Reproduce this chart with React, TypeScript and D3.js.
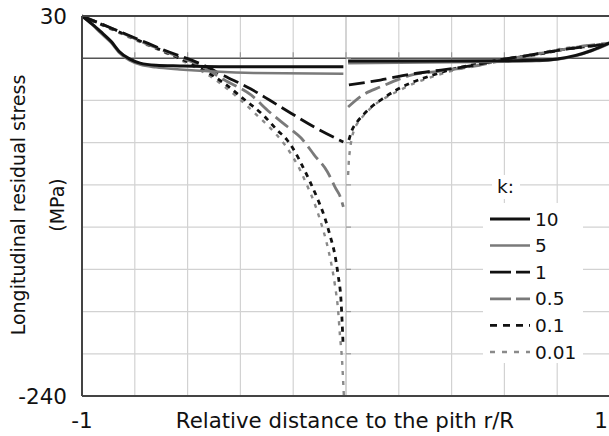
import React from 'react';
import * as d3 from 'd3';

type P = [number, number];

// ---- data (r/R, stress in MPa) ----
const xGridTicks = [-1, -0.8, -0.6, -0.4, -0.2, 0, 0.2, 0.4, 0.6, 0.8, 1];
const yGridTicks = [30, 0, -30, -60, -90, -120, -150, -180, -210, -240];
const xTickLabels = ['-1', '1'];
const yTickLabels = ['30', '-240'];
const legendTitle = 'k:';
const kLabels = ['10', '5', '1', '0.5', '0.1', '0.01'];

const k10Left: P[] = [[-1, 30], [-0.96, 24], [-0.93, 19], [-0.89, 12], [-0.86, 5], [-0.82, -0.5], [-0.78, -3.5], [-0.72, -5], [-0.63, -5.5], [-0.48, -6], [-0.01, -6]];
const k10Right: P[] = [[0.008, -2], [0.3, -2], [0.6, -1.8], [0.72, -1.5], [0.8, -0.5], [0.87, 2], [0.93, 5.5], [1, 11]];
const k5Left: P[] = [[-1, 30], [-0.96, 23.5], [-0.93, 18], [-0.89, 11], [-0.86, 4], [-0.82, -1.5], [-0.78, -4.5], [-0.72, -6.5], [-0.63, -8], [-0.5, -9.5], [-0.35, -10.5], [-0.01, -11]];
const k5Right: P[] = [[0.008, -3.5], [0.3, -3], [0.6, -2.5], [0.72, -2], [0.8, -1], [0.87, 1.5], [0.93, 5], [1, 10.5]];
const k1Left: P[] = [[-1, 30], [-0.89, 21.5], [-0.78, 12.9], [-0.67, 4.4], [-0.55, -4.1], [-0.46, -12.6], [-0.36, -21.9], [-0.29, -29.7], [-0.21, -38.9], [-0.12, -48.9], [-0.01, -59.5]];
const k1Right: P[] = [[0.011, -19], [0.13, -15.5], [0.25, -11.2], [0.36, -8.4], [0.47, -5.5], [0.58, -1.3], [0.7, 2.3], [0.81, 5.8], [0.9, 8], [1, 10.1]];
const k05Left: P[] = [[-1, 30], [-0.89, 21.5], [-0.78, 12.2], [-0.67, 3.7], [-0.55, -5.5], [-0.46, -15.5], [-0.36, -26.1], [-0.29, -38.2], [-0.22, -48.9], [-0.17, -56.7], [-0.12, -68.8], [-0.07, -80.8], [-0.04, -92.2], [-0.02, -99.3], [-0.01, -105.7]];
const k05Right: P[] = [[0.008, -34.7], [0.064, -26.1], [0.13, -20.4], [0.25, -11.9], [0.36, -9.1], [0.47, -6.2], [0.58, -2], [0.7, 2.3], [0.81, 5.8], [0.9, 8.7], [1, 10.8]];
const k01Left: P[] = [[-1, 30], [-0.894, 21.5], [-0.78, 12.2], [-0.667, 3], [-0.553, -6.9], [-0.458, -18.3], [-0.383, -29.7], [-0.314, -40.3], [-0.261, -51], [-0.223, -58.1], [-0.193, -66.6], [-0.163, -77.3], [-0.136, -87.9], [-0.106, -100.7], [-0.08, -113.5], [-0.061, -125.6], [-0.042, -139.8], [-0.03, -154], [-0.019, -171.8], [-0.015, -186], [-0.011, -203.8]];
const k01Right: P[] = [[0.011, -58.1], [0.023, -51], [0.042, -45.3], [0.061, -41.1], [0.091, -35.4], [0.148, -27.6], [0.197, -21.9], [0.254, -16.9], [0.318, -12.6], [0.405, -7.7], [0.519, -3.4], [0.629, 0.2], [0.735, 3], [0.811, 5.8], [0.898, 8], [1, 10.1]];
const k001Left: P[] = [[-1, 30], [-0.894, 20.8], [-0.78, 11.5], [-0.667, 2.3], [-0.553, -8.4], [-0.458, -20.4], [-0.383, -32.5], [-0.326, -42.5], [-0.269, -53.1], [-0.231, -61.7], [-0.201, -70.2], [-0.174, -79.4], [-0.148, -90.1], [-0.121, -102.2], [-0.098, -115], [-0.076, -129.2], [-0.057, -144.8], [-0.042, -161.1], [-0.03, -178.9], [-0.023, -196.7], [-0.015, -214.4], [-0.011, -228.6], [-0.008, -240]];
const k001Right: P[] = [[0.008, -83], [0.011, -72.3], [0.015, -65.2], [0.023, -56], [0.034, -49.6], [0.053, -43.9], [0.072, -39.6], [0.098, -34.7], [0.148, -28.3], [0.205, -22.6], [0.261, -17.6], [0.326, -13.3], [0.413, -8.4], [0.527, -4.1], [0.633, 0.2], [0.735, 3.7], [0.811, 6.6], [0.905, 8.7], [1, 10.8]];

const seriesLeft = [k10Left, k5Left, k1Left, k05Left, k01Left, k001Left];
const seriesRight = [k10Right, k5Right, k1Right, k05Right, k01Right, k001Right];

const styles = [
  { color: '#111', width: 3, dash: '' },
  { color: '#7a7a7a', width: 2.5, dash: '' },
  { color: '#111', width: 2.8, dash: '16,6' },
  { color: '#7a7a7a', width: 2.8, dash: '16,6' },
  { color: '#111', width: 2.8, dash: '5,5' },
  { color: '#8a8a8a', width: 2.4, dash: '4,6' },
];

const FONT = 'DejaVu Sans, Verdana, sans-serif';

export default function App() {
  const W = 609, H = 436;
  const x = d3.scaleLinear().domain([-1, 1]).range([82, 610]);
  const y = d3.scaleLinear().domain([-240, 30]).range([396, 16]);
  const line = d3.line<P>().x(d => x(d[0])).y(d => y(d[1])).curve(d3.curveMonotoneX);

  const legX0 = 490, legX1 = 530, legY0 = 219, legDy = 26.6;

  return (
    <svg width={W} height={H} style={{ position: 'absolute', left: 0, top: 0, background: '#fff' }} fontFamily={FONT}>
      <rect x={0} y={0} width={W} height={H} fill="#fff" />
      {/* grid */}
      {xGridTicks.map(t => (
        <line key={'gx' + t} x1={x(t)} x2={x(t)} y1={y(30)} y2={y(-240)} stroke={t === 0 ? '#b8b8b8' : '#d2d2d2'} strokeWidth={1.2} />
      ))}
      {yGridTicks.map(t => (
        <line key={'gy' + t} x1={x(-1)} x2={x(1)} y1={y(t)} y2={y(t)} stroke={t === 0 ? '#555' : '#d2d2d2'} strokeWidth={t === 0 ? 1.6 : 1.2} />
      ))}
      {/* small ticks on zero axes */}
      {xGridTicks.map(t => (
        <line key={'tx' + t} x1={x(t)} x2={x(t)} y1={y(0) - 6} y2={y(0)} stroke="#999" strokeWidth={1.2} />
      ))}
      {yGridTicks.map(t => (
        <line key={'ty' + t} x1={x(0)} x2={x(0) + 5} y1={y(t)} y2={y(t)} stroke="#999" strokeWidth={1.2} />
      ))}
      {/* legend background */}
      <rect x={483} y={203} width={100} height={160} fill="#fff" />
      <rect x={492} y={175} width={28} height={24} fill="#fff" />
      {/* curves */}
      <g>
        {seriesLeft.map((s, i) => (
          <path key={'l' + i} d={line(s) || ''} fill="none" stroke={styles[i].color} strokeWidth={styles[i].width} strokeDasharray={styles[i].dash} />
        )).reverse()}
        {seriesRight.map((s, i) => (
          <path key={'r' + i} d={line(s) || ''} fill="none" stroke={styles[i].color} strokeWidth={styles[i].width} strokeDasharray={styles[i].dash} />
        )).reverse()}
      </g>
      {/* frame */}
      <line x1={x(-1)} x2={x(1)} y1={y(30)} y2={y(30)} stroke="#444" strokeWidth={2} />
      <line x1={x(-1)} x2={x(1)} y1={y(-240)} y2={y(-240)} stroke="#444" strokeWidth={2} />
      <line x1={x(-1)} x2={x(-1)} y1={y(30)} y2={y(-240)} stroke="#444" strokeWidth={2} />
      {/* tick labels */}
      <text x={67} y={y(30)} dy="0.36em" textAnchor="end" fontSize={21.5} fill="#111">{yTickLabels[0]}</text>
      <text x={67} y={y(-240)} dy="0.36em" textAnchor="end" fontSize={21.5} fill="#111">{yTickLabels[1]}</text>
      <text x={x(-1)} y={428} textAnchor="middle" fontSize={21.5} fill="#111">{xTickLabels[0]}</text>
      <text x={608} y={428} textAnchor="end" fontSize={21.5} fill="#111">{xTickLabels[1]}</text>
      {/* axis titles */}
      <text x={345} y={428} textAnchor="middle" fontSize={21.3} fill="#111">Relative distance to the pith r/R</text>
      <text transform={`translate(25,205) rotate(-90)`} textAnchor="middle" fontSize={19} fill="#111">Longitudinal residual stress</text>
      <text transform={`translate(64,205) rotate(-90)`} textAnchor="middle" fontSize={19} fill="#111">(MPa)</text>
      {/* legend */}
      <text x={497} y={193} fontSize={18.5} fill="#111">{legendTitle}</text>
      {kLabels.map((lab, i) => (
        <g key={'lg' + i}>
          <line x1={legX0} x2={legX1} y1={legY0 + i * legDy} y2={legY0 + i * legDy} stroke={styles[i].color} strokeWidth={styles[i].width} strokeDasharray={i === 2 || i === 3 ? '21,5' : i === 4 ? '7,6' : i === 5 ? '5,7' : ''} />
          <text x={535} y={legY0 + i * legDy} dy="0.36em" fontSize={18.5} fill="#111">{lab}</text>
        </g>
      ))}
    </svg>
  );
}
